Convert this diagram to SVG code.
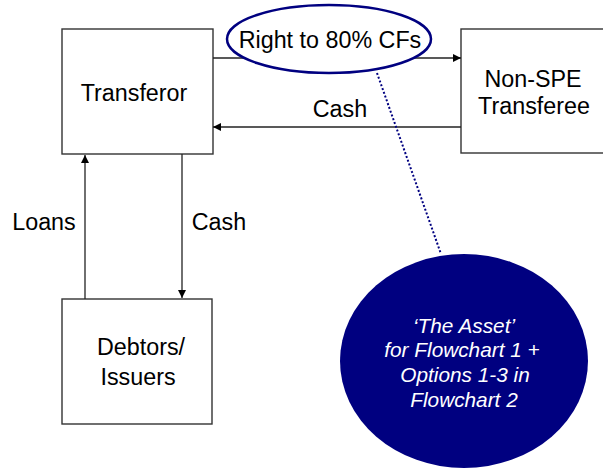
<svg xmlns="http://www.w3.org/2000/svg" width="603" height="469" viewBox="0 0 603 469">
<defs>
<style>
.box{fill:#fff;stroke:#333;stroke-width:1.4}
.t{font-family:"Liberation Sans",Arial,sans-serif;font-size:23.3px;fill:#000;text-anchor:middle}
.w{font-family:"Liberation Sans",Arial,sans-serif;font-size:20.8px;font-style:italic;fill:#fff;text-anchor:middle}
.c{stroke:#222;stroke-width:1.3;fill:none;marker-end:url(#ah)}
</style>
<marker id="ah" viewBox="0 0 10 10" refX="10" refY="5" markerWidth="8" markerHeight="8" markerUnits="userSpaceOnUse" orient="auto">
<path d="M0,0 L10,5 L0,10 Z" fill="#000"/>
</marker>
</defs>
<rect width="603" height="469" fill="#fff"/>
<g id="transferor">
<rect class="box" x="62" y="29" width="151" height="125"/>
<text class="t" x="134" y="101">Transferor</text>
</g>
<g id="transferee">
<rect class="box" x="461" y="29" width="150" height="124"/>
<text class="t" x="533" y="87">Non-SPE</text>
<text class="t" x="534" y="114">Transferee</text>
</g>
<g id="debtors">
<rect class="box" x="62" y="299" width="150" height="125"/>
<text class="t" x="141" y="355">Debtors/</text>
<text class="t" x="138" y="385">Issuers</text>
</g>
<g id="connectors">
<line class="c" x1="213" y1="58" x2="461" y2="58"/>
<line class="c" x1="461" y1="127" x2="213" y2="127"/>
<line class="c" x1="85" y1="299" x2="85" y2="155"/>
<line class="c" x1="182" y1="154" x2="182" y2="298"/>
<line x1="377" y1="73" x2="441" y2="254" stroke="#000080" stroke-width="2" stroke-dasharray="2,2"/>
<text class="t" x="340" y="117">Cash</text>
<text class="t" x="44" y="230">Loans</text>
<text class="t" x="219" y="230">Cash</text>
</g>
<g id="right-label">
<ellipse cx="329" cy="39" rx="102" ry="34" fill="#fff" stroke="#000080" stroke-width="2.5"/>
<text class="t" x="330" y="48">Right to 80% CFs</text>
</g>
<g id="asset">
<ellipse cx="464" cy="361" rx="124" ry="107" fill="#000080"/>
<text class="w" x="464" y="333">‘The Asset’</text>
<text class="w" x="462" y="357">for Flowchart 1 +</text>
<text class="w" x="465" y="382">Options 1-3 in</text>
<text class="w" x="464" y="407">Flowchart 2</text>
</g>
</svg>
